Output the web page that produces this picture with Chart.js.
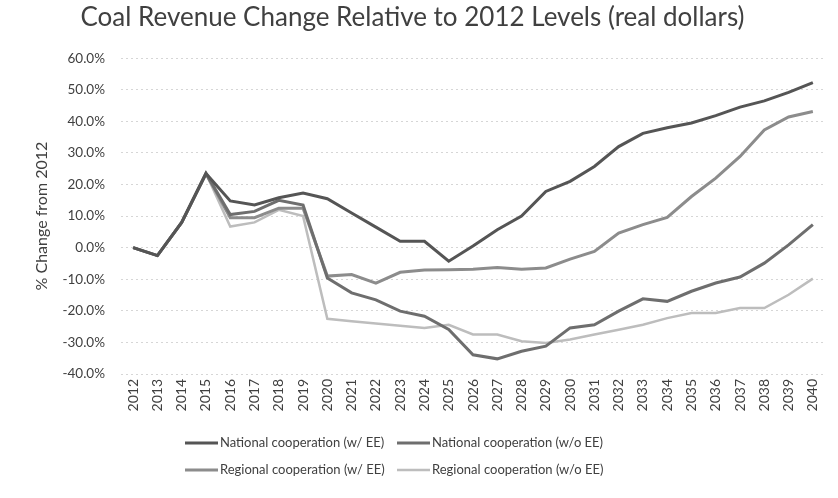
<!DOCTYPE html>
<html>
<head>
<meta charset="utf-8">
<title>Coal Revenue Change</title>
<script src="https://cdn.jsdelivr.net/npm/chart.js@4/dist/chart.umd.min.js"></script>
<style>
  html, body { margin: 0; padding: 0; background: #fff; }
  canvas { display: block; }
</style>
</head>
<body>
<canvas id="revenueChart" width="838" height="498"></canvas>
<script>
// Years on the category axis
const years = ['2012', '2013', '2014', '2015', '2016', '2017', '2018', '2019', '2020',
  '2021', '2022', '2023', '2024', '2025', '2026', '2027', '2028', '2029', '2030',
  '2031', '2032', '2033', '2034', '2035', '2036', '2037', '2038', '2039', '2040'];

// % change from 2012 for each scenario
const nationalWithEE = [0, -2.5, 8, 23.5, 14.8, 13.5, 15.8, 17.3, 15.5, 11, 6.5, 2, 2, -4.3,
  0.5, 5.7, 10, 17.8, 21, 25.7, 32, 36.2, 38, 39.5, 41.8, 44.5, 46.5, 49.2, 52.3];
const nationalWithoutEE = [0, -2.5, 8, 23.5, 10.5, 11.5, 15, 13.5, -9.6, -14.3, -16.5, -20.1,
  -21.7, -25.9, -33.9, -35.2, -32.8, -31.2, -25.4, -24.4, -20.1, -16.2, -17, -13.8, -11.2,
  -9.3, -4.9, 0.9, 7.3];
const regionalWithEE = [0, -2.5, 8, 23.5, 9.5, 9.5, 12.5, 12.5, -9, -8.5, -11.2, -7.8, -7.1,
  -7, -6.8, -6.3, -6.8, -6.4, -3.6, -1.2, 4.6, 7.3, 9.6, 16.2, 22, 28.9, 37.3, 41.4, 43.1];
const regionalWithoutEE = [0, -2.5, 8, 23.5, 6.7, 8, 12, 10, -22.5, -23.3, -24, -24.7, -25.4,
  -24.4, -27.5, -27.5, -29.6, -30.2, -29.1, -27.5, -26, -24.4, -22.3, -20.7, -20.7, -19.1,
  -19.1, -14.9, -9.8];

const seriesLabels = ['National cooperation (w/ EE)', 'National cooperation (w/o EE)',
  'Regional cooperation (w/ EE)', 'Regional cooperation (w/o EE)'];
const seriesColors = ['#555555', '#6e6e6e', '#8c8c8c', '#bdbdbd'];

const textColor = '#404040';
const fontFamily = 'Lato, "Open Sans", sans-serif';

// Two-column legend drawn under the axis
const legendGrid = {
  id: 'legendGrid',
  afterDraw(chart) {
    const ctx = chart.ctx;
    const cols = [185, 397];
    const rows = [443, 470];
    ctx.save();
    ctx.font = '13px ' + fontFamily;
    ctx.textBaseline = 'middle';
    ctx.textAlign = 'left';
    chart.data.datasets.forEach((ds, i) => {
      const x = cols[i % 2];
      const y = rows[Math.floor(i / 2)];
      ctx.strokeStyle = ds.borderColor;
      ctx.lineWidth = ds.borderWidth;
      ctx.beginPath();
      ctx.moveTo(x, y);
      ctx.lineTo(x + 33, y);
      ctx.stroke();
      ctx.fillStyle = textColor;
      ctx.fillText(ds.label, x + 35, y);
    });
    ctx.restore();
  }
};

const datasets = [nationalWithEE, nationalWithoutEE, regionalWithEE, regionalWithoutEE]
  .map((values, i) => ({
    label: seriesLabels[i],
    data: values,
    borderColor: seriesColors[i],
    backgroundColor: seriesColors[i],
    borderWidth: i === 3 ? 2.5 : 3,
    pointRadius: 0,
    tension: 0,
    fill: false
  }));

const ctx = document.getElementById('revenueChart').getContext('2d');
const revenueChart = new Chart(ctx, {
  type: 'line',
  data: { labels: years, datasets: datasets },
  options: {
    responsive: false,
    animation: false,
    layout: { padding: { left: 0, right: 13, top: 0, bottom: 74 } },
    plugins: {
      legend: { display: false },
      tooltip: { enabled: false },
      title: {
        display: true,
        text: 'Coal Revenue Change Relative to 2012 Levels (real dollars)',
        color: textColor,
        font: { family: fontFamily, size: 26, weight: 'normal' },
        padding: { top: 2, bottom: 25 }
      }
    },
    scales: {
      x: {
        offset: true,
        grid: { display: false, drawTicks: false },
        border: { display: false },
        ticks: {
          autoSkip: false,
          minRotation: 90,
          maxRotation: 90,
          padding: 5,
          color: textColor,
          font: { family: fontFamily, size: 14 }
        },
        afterFit(scale) { scale.height = 50; }
      },
      y: {
        min: -40,
        max: 60,
        grid: { color: '#d6d6d6', drawTicks: false },
        border: { display: false, dash: [2, 3] },
        ticks: {
          stepSize: 10,
          padding: 16,
          color: textColor,
          font: { family: fontFamily, size: 13.5 },
          callback: (v) => v.toFixed(1) + '%'
        },
        title: {
          display: true,
          text: '% Change from 2012',
          color: textColor,
          font: { family: fontFamily, size: 16 },
          padding: { top: 32, bottom: 0 }
        },
        afterFit(scale) { scale.width = 121; }
      }
    }
  },
  plugins: [legendGrid]
});
</script>
</body>
</html>
